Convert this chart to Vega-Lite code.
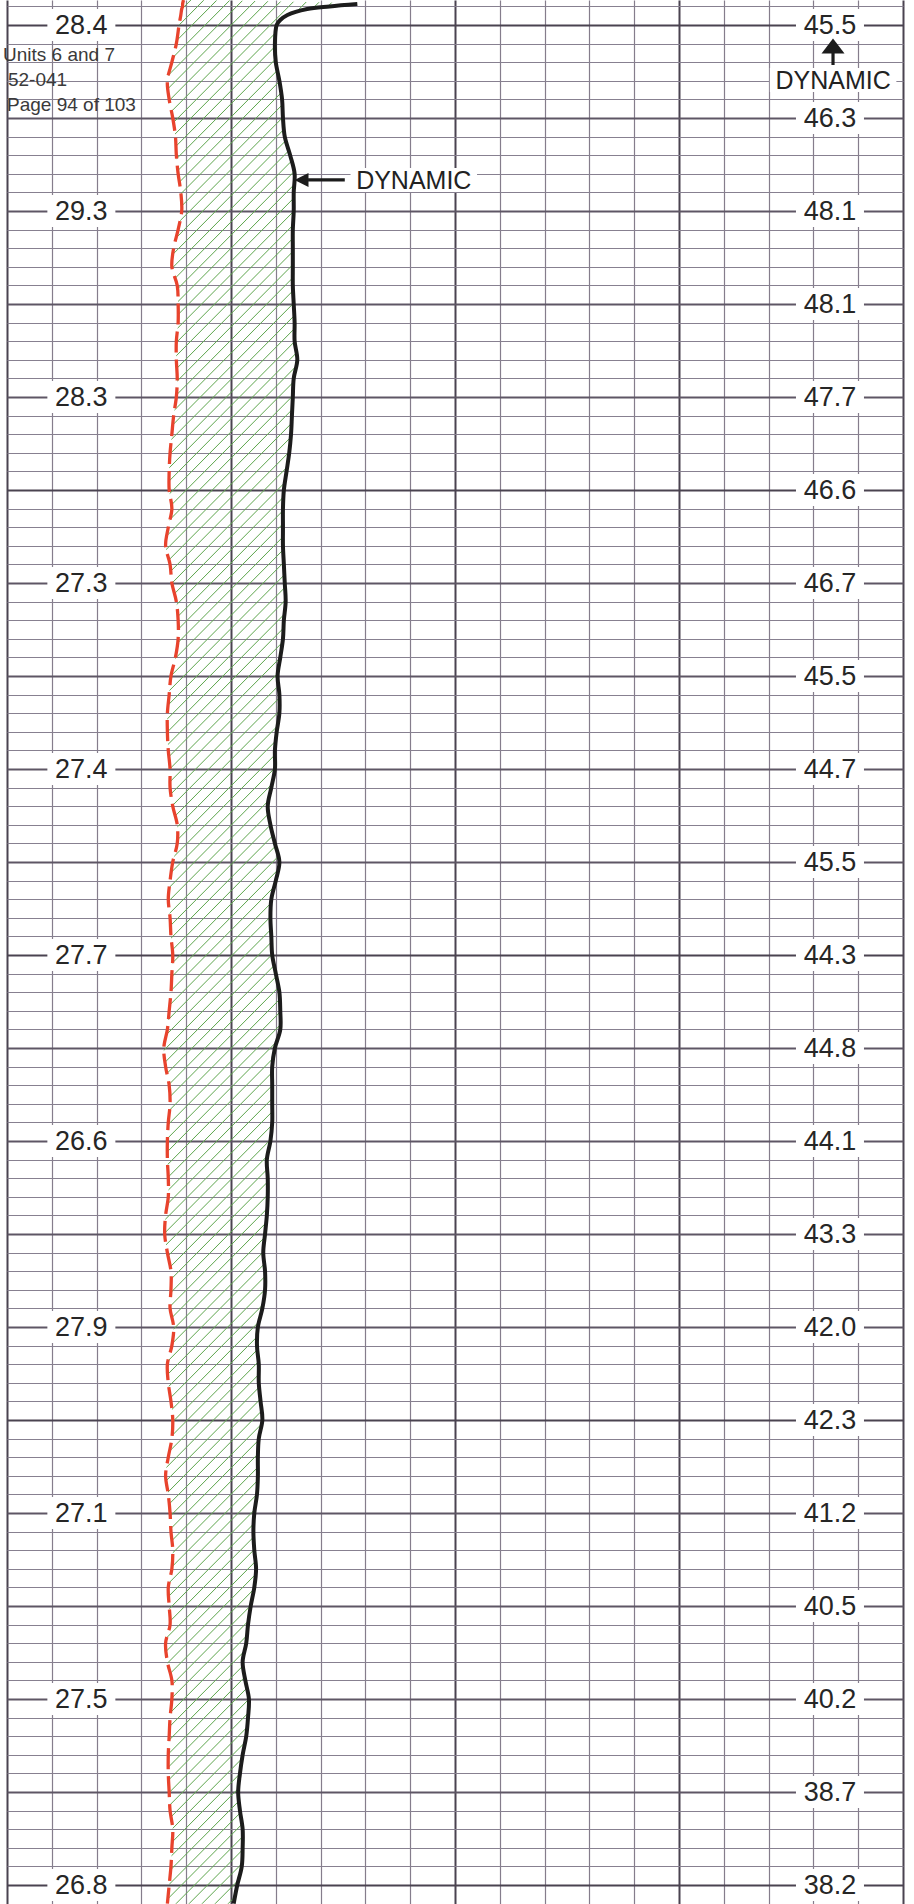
{
  "$schema": "https://vega.github.io/schema/vega-lite/v6.json",
  "width": 896,
  "height": 1904,
  "autosize": "none",
  "padding": {"left": 7, "right": 11, "top": 0, "bottom": 0},
  "background": "white",
  "config": {"view": {"stroke": null}, "font": "Liberation Sans"},
  "datasets": {
    "trace": [
      {"t": -1.34, "red": 19.7},
      {"t": -1.13, "dyn": 39.1, "red": 19.6},
      {"t": -1.0, "dyn": 36.0, "red": 19.6},
      {"t": -0.86, "dyn": 33.5, "red": 19.5},
      {"t": -0.54, "dyn": 31.3, "red": 19.4},
      {"t": -0.27, "dyn": 30.5, "red": 19.3},
      {"t": 0, "dyn": 30.1, "red": 19.2},
      {"t": 1, "dyn": 29.9, "red": 18.9},
      {"t": 2, "dyn": 30.0, "red": 18.4},
      {"t": 3, "dyn": 30.4, "red": 17.9},
      {"t": 4, "dyn": 30.7, "red": 18.1},
      {"t": 5, "dyn": 30.8, "red": 18.5},
      {"t": 6, "dyn": 31.0, "red": 18.8},
      {"t": 7, "dyn": 31.6, "red": 18.9},
      {"t": 8, "dyn": 32.1, "red": 19.1},
      {"t": 9, "dyn": 32.0, "red": 19.4},
      {"t": 10, "dyn": 32.0, "red": 19.5},
      {"t": 11, "dyn": 31.9, "red": 19.1},
      {"t": 12, "dyn": 31.9, "red": 18.6},
      {"t": 13, "dyn": 31.9, "red": 18.4},
      {"t": 14, "dyn": 31.9, "red": 19.0},
      {"t": 15, "dyn": 32.0, "red": 19.1},
      {"t": 16, "dyn": 32.1, "red": 19.1},
      {"t": 17, "dyn": 32.1, "red": 18.9},
      {"t": 18, "dyn": 32.4, "red": 18.9},
      {"t": 19, "dyn": 32.0, "red": 19.0},
      {"t": 20, "dyn": 31.9, "red": 18.9},
      {"t": 21, "dyn": 31.8, "red": 18.6},
      {"t": 22, "dyn": 31.7, "red": 18.4},
      {"t": 23, "dyn": 31.5, "red": 18.2},
      {"t": 24, "dyn": 31.2, "red": 18.1},
      {"t": 25, "dyn": 30.9, "red": 18.1},
      {"t": 26, "dyn": 30.8, "red": 18.4},
      {"t": 27, "dyn": 30.8, "red": 18.0},
      {"t": 28, "dyn": 30.8, "red": 17.7},
      {"t": 29, "dyn": 30.9, "red": 18.2},
      {"t": 30, "dyn": 31.0, "red": 18.4},
      {"t": 31, "dyn": 31.1, "red": 18.9},
      {"t": 32, "dyn": 30.9, "red": 19.1},
      {"t": 33, "dyn": 30.8, "red": 19.1},
      {"t": 34, "dyn": 30.5, "red": 18.8},
      {"t": 35, "dyn": 30.2, "red": 18.3},
      {"t": 36, "dyn": 30.4, "red": 18.1},
      {"t": 37, "dyn": 30.4, "red": 17.9},
      {"t": 38, "dyn": 30.1, "red": 17.9},
      {"t": 39, "dyn": 29.9, "red": 18.0},
      {"t": 40, "dyn": 29.9, "red": 18.2},
      {"t": 41, "dyn": 29.5, "red": 18.2},
      {"t": 42, "dyn": 29.1, "red": 18.5},
      {"t": 43, "dyn": 29.4, "red": 19.0},
      {"t": 44, "dyn": 29.9, "red": 19.0},
      {"t": 45, "dyn": 30.4, "red": 18.5},
      {"t": 46, "dyn": 30.0, "red": 18.2},
      {"t": 47, "dyn": 29.5, "red": 18.0},
      {"t": 48, "dyn": 29.4, "red": 18.2},
      {"t": 49, "dyn": 29.5, "red": 18.3},
      {"t": 50, "dyn": 29.6, "red": 18.5},
      {"t": 51, "dyn": 30.0, "red": 18.4},
      {"t": 52, "dyn": 30.4, "red": 18.3},
      {"t": 53, "dyn": 30.5, "red": 18.1},
      {"t": 54, "dyn": 30.5, "red": 17.9},
      {"t": 55, "dyn": 29.9, "red": 17.5},
      {"t": 56, "dyn": 29.6, "red": 17.7},
      {"t": 57, "dyn": 29.6, "red": 18.1},
      {"t": 58, "dyn": 29.6, "red": 18.2},
      {"t": 59, "dyn": 29.6, "red": 18.0},
      {"t": 60, "dyn": 29.4, "red": 17.9},
      {"t": 61, "dyn": 29.0, "red": 17.9},
      {"t": 62, "dyn": 29.1, "red": 18.0},
      {"t": 63, "dyn": 29.1, "red": 18.0},
      {"t": 64, "dyn": 29.0, "red": 17.7},
      {"t": 65, "dyn": 28.8, "red": 17.6},
      {"t": 66, "dyn": 28.6, "red": 17.9},
      {"t": 67, "dyn": 28.8, "red": 18.3},
      {"t": 68, "dyn": 28.8, "red": 18.3},
      {"t": 69, "dyn": 28.5, "red": 18.2},
      {"t": 70, "dyn": 28.0, "red": 18.6},
      {"t": 71, "dyn": 27.9, "red": 18.4},
      {"t": 72, "dyn": 28.1, "red": 17.9},
      {"t": 73, "dyn": 28.1, "red": 18.0},
      {"t": 74, "dyn": 28.3, "red": 18.3},
      {"t": 75, "dyn": 28.5, "red": 18.5},
      {"t": 76, "dyn": 28.1, "red": 18.4},
      {"t": 77, "dyn": 28.0, "red": 18.0},
      {"t": 78, "dyn": 28.0, "red": 17.7},
      {"t": 79, "dyn": 27.9, "red": 18.0},
      {"t": 80, "dyn": 27.6, "red": 18.2},
      {"t": 81, "dyn": 27.5, "red": 18.3},
      {"t": 82, "dyn": 27.6, "red": 18.5},
      {"t": 83, "dyn": 27.8, "red": 18.4},
      {"t": 84, "dyn": 27.6, "red": 18.0},
      {"t": 85, "dyn": 27.2, "red": 18.1},
      {"t": 86, "dyn": 26.9, "red": 18.2},
      {"t": 87, "dyn": 26.7, "red": 17.7},
      {"t": 88, "dyn": 26.3, "red": 17.9},
      {"t": 89, "dyn": 26.6, "red": 18.4},
      {"t": 90, "dyn": 27.0, "red": 18.4},
      {"t": 91, "dyn": 26.9, "red": 18.2},
      {"t": 92, "dyn": 26.7, "red": 18.1},
      {"t": 93, "dyn": 26.3, "red": 18.0},
      {"t": 94, "dyn": 26.0, "red": 18.0},
      {"t": 95, "dyn": 25.8, "red": 18.1},
      {"t": 96, "dyn": 26.0, "red": 18.2},
      {"t": 97, "dyn": 26.3, "red": 18.5},
      {"t": 98, "dyn": 26.3, "red": 18.4},
      {"t": 99, "dyn": 26.2, "red": 18.3},
      {"t": 100, "dyn": 25.7, "red": 18.1},
      {"t": 101, "dyn": 25.3, "red": 17.9}
    ],
    "left": [
      {"t": 0, "v": "28.4"}, {"t": 10, "v": "29.3"}, {"t": 20, "v": "28.3"},
      {"t": 30, "v": "27.3"}, {"t": 40, "v": "27.4"}, {"t": 50, "v": "27.7"},
      {"t": 60, "v": "26.6"}, {"t": 70, "v": "27.9"}, {"t": 80, "v": "27.1"},
      {"t": 90, "v": "27.5"}, {"t": 100, "v": "26.8"}
    ],
    "right": [
      {"t": 0, "v": "45.5"}, {"t": 5, "v": "46.3"}, {"t": 10, "v": "48.1"},
      {"t": 15, "v": "48.1"}, {"t": 20, "v": "47.7"}, {"t": 25, "v": "46.6"},
      {"t": 30, "v": "46.7"}, {"t": 35, "v": "45.5"}, {"t": 40, "v": "44.7"},
      {"t": 45, "v": "45.5"}, {"t": 50, "v": "44.3"}, {"t": 55, "v": "44.8"},
      {"t": 60, "v": "44.1"}, {"t": 65, "v": "43.3"}, {"t": 70, "v": "42.0"},
      {"t": 75, "v": "42.3"}, {"t": 80, "v": "41.2"}, {"t": 85, "v": "40.5"},
      {"t": 90, "v": "40.2"}, {"t": 95, "v": "38.7"}, {"t": 100, "v": "38.2"}
    ]
  },
  "layer": [
    {
      "data": {"name": "trace"},
      "mark": {"type": "area", "orient": "horizontal", "interpolate": "catmull-rom", "fillOpacity": 1,
        "fill": {"gradient": "linear", "x1": 0, "y1": 0, "x2": 0.1117, "y2": 1.091, "stops": [
{"offset":0,"color":"rgba(98,168,82,0)"},{"offset":0.0005,"color":"#62a852"},{"offset":0.001,"color":"rgba(98,168,82,0)"},
{"offset":0.00625,"color":"rgba(98,168,82,0)"},{"offset":0.00675,"color":"#62a852"},{"offset":0.00725,"color":"rgba(98,168,82,0)"},
{"offset":0.0125,"color":"rgba(98,168,82,0)"},{"offset":0.013,"color":"#62a852"},{"offset":0.0135,"color":"rgba(98,168,82,0)"},
{"offset":0.01875,"color":"rgba(98,168,82,0)"},{"offset":0.01925,"color":"#62a852"},{"offset":0.01975,"color":"rgba(98,168,82,0)"},
{"offset":0.025,"color":"rgba(98,168,82,0)"},{"offset":0.0255,"color":"#62a852"},{"offset":0.026,"color":"rgba(98,168,82,0)"},
{"offset":0.03125,"color":"rgba(98,168,82,0)"},{"offset":0.03175,"color":"#62a852"},{"offset":0.03225,"color":"rgba(98,168,82,0)"},
{"offset":0.0375,"color":"rgba(98,168,82,0)"},{"offset":0.038,"color":"#62a852"},{"offset":0.0385,"color":"rgba(98,168,82,0)"},
{"offset":0.04375,"color":"rgba(98,168,82,0)"},{"offset":0.04425,"color":"#62a852"},{"offset":0.04475,"color":"rgba(98,168,82,0)"},
{"offset":0.05,"color":"rgba(98,168,82,0)"},{"offset":0.0505,"color":"#62a852"},{"offset":0.051,"color":"rgba(98,168,82,0)"},
{"offset":0.05625,"color":"rgba(98,168,82,0)"},{"offset":0.05675,"color":"#62a852"},{"offset":0.05725,"color":"rgba(98,168,82,0)"},
{"offset":0.0625,"color":"rgba(98,168,82,0)"},{"offset":0.063,"color":"#62a852"},{"offset":0.0635,"color":"rgba(98,168,82,0)"},
{"offset":0.06875,"color":"rgba(98,168,82,0)"},{"offset":0.06925,"color":"#62a852"},{"offset":0.06975,"color":"rgba(98,168,82,0)"},
{"offset":0.075,"color":"rgba(98,168,82,0)"},{"offset":0.0755,"color":"#62a852"},{"offset":0.076,"color":"rgba(98,168,82,0)"},
{"offset":0.08125,"color":"rgba(98,168,82,0)"},{"offset":0.08175,"color":"#62a852"},{"offset":0.08225,"color":"rgba(98,168,82,0)"},
{"offset":0.0875,"color":"rgba(98,168,82,0)"},{"offset":0.088,"color":"#62a852"},{"offset":0.0885,"color":"rgba(98,168,82,0)"},
{"offset":0.09375,"color":"rgba(98,168,82,0)"},{"offset":0.09425,"color":"#62a852"},{"offset":0.09475,"color":"rgba(98,168,82,0)"},
{"offset":0.1,"color":"rgba(98,168,82,0)"},{"offset":0.1005,"color":"#62a852"},{"offset":0.101,"color":"rgba(98,168,82,0)"},
{"offset":0.10625,"color":"rgba(98,168,82,0)"},{"offset":0.10675,"color":"#62a852"},{"offset":0.10725,"color":"rgba(98,168,82,0)"},
{"offset":0.1125,"color":"rgba(98,168,82,0)"},{"offset":0.113,"color":"#62a852"},{"offset":0.1135,"color":"rgba(98,168,82,0)"},
{"offset":0.11875,"color":"rgba(98,168,82,0)"},{"offset":0.11925,"color":"#62a852"},{"offset":0.11975,"color":"rgba(98,168,82,0)"},
{"offset":0.125,"color":"rgba(98,168,82,0)"},{"offset":0.1255,"color":"#62a852"},{"offset":0.126,"color":"rgba(98,168,82,0)"},
{"offset":0.13125,"color":"rgba(98,168,82,0)"},{"offset":0.13175,"color":"#62a852"},{"offset":0.13225,"color":"rgba(98,168,82,0)"},
{"offset":0.1375,"color":"rgba(98,168,82,0)"},{"offset":0.138,"color":"#62a852"},{"offset":0.1385,"color":"rgba(98,168,82,0)"},
{"offset":0.14375,"color":"rgba(98,168,82,0)"},{"offset":0.14425,"color":"#62a852"},{"offset":0.14475,"color":"rgba(98,168,82,0)"},
{"offset":0.15,"color":"rgba(98,168,82,0)"},{"offset":0.1505,"color":"#62a852"},{"offset":0.151,"color":"rgba(98,168,82,0)"},
{"offset":0.15625,"color":"rgba(98,168,82,0)"},{"offset":0.15675,"color":"#62a852"},{"offset":0.15725,"color":"rgba(98,168,82,0)"},
{"offset":0.1625,"color":"rgba(98,168,82,0)"},{"offset":0.163,"color":"#62a852"},{"offset":0.1635,"color":"rgba(98,168,82,0)"},
{"offset":0.16875,"color":"rgba(98,168,82,0)"},{"offset":0.16925,"color":"#62a852"},{"offset":0.16975,"color":"rgba(98,168,82,0)"},
{"offset":0.175,"color":"rgba(98,168,82,0)"},{"offset":0.1755,"color":"#62a852"},{"offset":0.176,"color":"rgba(98,168,82,0)"},
{"offset":0.18125,"color":"rgba(98,168,82,0)"},{"offset":0.18175,"color":"#62a852"},{"offset":0.18225,"color":"rgba(98,168,82,0)"},
{"offset":0.1875,"color":"rgba(98,168,82,0)"},{"offset":0.188,"color":"#62a852"},{"offset":0.1885,"color":"rgba(98,168,82,0)"},
{"offset":0.19375,"color":"rgba(98,168,82,0)"},{"offset":0.19425,"color":"#62a852"},{"offset":0.19475,"color":"rgba(98,168,82,0)"},
{"offset":0.2,"color":"rgba(98,168,82,0)"},{"offset":0.2005,"color":"#62a852"},{"offset":0.201,"color":"rgba(98,168,82,0)"},
{"offset":0.20625,"color":"rgba(98,168,82,0)"},{"offset":0.20675,"color":"#62a852"},{"offset":0.20725,"color":"rgba(98,168,82,0)"},
{"offset":0.2125,"color":"rgba(98,168,82,0)"},{"offset":0.213,"color":"#62a852"},{"offset":0.2135,"color":"rgba(98,168,82,0)"},
{"offset":0.21875,"color":"rgba(98,168,82,0)"},{"offset":0.21925,"color":"#62a852"},{"offset":0.21975,"color":"rgba(98,168,82,0)"},
{"offset":0.225,"color":"rgba(98,168,82,0)"},{"offset":0.2255,"color":"#62a852"},{"offset":0.226,"color":"rgba(98,168,82,0)"},
{"offset":0.23125,"color":"rgba(98,168,82,0)"},{"offset":0.23175,"color":"#62a852"},{"offset":0.23225,"color":"rgba(98,168,82,0)"},
{"offset":0.2375,"color":"rgba(98,168,82,0)"},{"offset":0.238,"color":"#62a852"},{"offset":0.2385,"color":"rgba(98,168,82,0)"},
{"offset":0.24375,"color":"rgba(98,168,82,0)"},{"offset":0.24425,"color":"#62a852"},{"offset":0.24475,"color":"rgba(98,168,82,0)"},
{"offset":0.25,"color":"rgba(98,168,82,0)"},{"offset":0.2505,"color":"#62a852"},{"offset":0.251,"color":"rgba(98,168,82,0)"},
{"offset":0.25625,"color":"rgba(98,168,82,0)"},{"offset":0.25675,"color":"#62a852"},{"offset":0.25725,"color":"rgba(98,168,82,0)"},
{"offset":0.2625,"color":"rgba(98,168,82,0)"},{"offset":0.263,"color":"#62a852"},{"offset":0.2635,"color":"rgba(98,168,82,0)"},
{"offset":0.26875,"color":"rgba(98,168,82,0)"},{"offset":0.26925,"color":"#62a852"},{"offset":0.26975,"color":"rgba(98,168,82,0)"},
{"offset":0.275,"color":"rgba(98,168,82,0)"},{"offset":0.2755,"color":"#62a852"},{"offset":0.276,"color":"rgba(98,168,82,0)"},
{"offset":0.28125,"color":"rgba(98,168,82,0)"},{"offset":0.28175,"color":"#62a852"},{"offset":0.28225,"color":"rgba(98,168,82,0)"},
{"offset":0.2875,"color":"rgba(98,168,82,0)"},{"offset":0.288,"color":"#62a852"},{"offset":0.2885,"color":"rgba(98,168,82,0)"},
{"offset":0.29375,"color":"rgba(98,168,82,0)"},{"offset":0.29425,"color":"#62a852"},{"offset":0.29475,"color":"rgba(98,168,82,0)"},
{"offset":0.3,"color":"rgba(98,168,82,0)"},{"offset":0.3005,"color":"#62a852"},{"offset":0.301,"color":"rgba(98,168,82,0)"},
{"offset":0.30625,"color":"rgba(98,168,82,0)"},{"offset":0.30675,"color":"#62a852"},{"offset":0.30725,"color":"rgba(98,168,82,0)"},
{"offset":0.3125,"color":"rgba(98,168,82,0)"},{"offset":0.313,"color":"#62a852"},{"offset":0.3135,"color":"rgba(98,168,82,0)"},
{"offset":0.31875,"color":"rgba(98,168,82,0)"},{"offset":0.31925,"color":"#62a852"},{"offset":0.31975,"color":"rgba(98,168,82,0)"},
{"offset":0.325,"color":"rgba(98,168,82,0)"},{"offset":0.3255,"color":"#62a852"},{"offset":0.326,"color":"rgba(98,168,82,0)"},
{"offset":0.33125,"color":"rgba(98,168,82,0)"},{"offset":0.33175,"color":"#62a852"},{"offset":0.33225,"color":"rgba(98,168,82,0)"},
{"offset":0.3375,"color":"rgba(98,168,82,0)"},{"offset":0.338,"color":"#62a852"},{"offset":0.3385,"color":"rgba(98,168,82,0)"},
{"offset":0.34375,"color":"rgba(98,168,82,0)"},{"offset":0.34425,"color":"#62a852"},{"offset":0.34475,"color":"rgba(98,168,82,0)"},
{"offset":0.35,"color":"rgba(98,168,82,0)"},{"offset":0.3505,"color":"#62a852"},{"offset":0.351,"color":"rgba(98,168,82,0)"},
{"offset":0.35625,"color":"rgba(98,168,82,0)"},{"offset":0.35675,"color":"#62a852"},{"offset":0.35725,"color":"rgba(98,168,82,0)"},
{"offset":0.3625,"color":"rgba(98,168,82,0)"},{"offset":0.363,"color":"#62a852"},{"offset":0.3635,"color":"rgba(98,168,82,0)"},
{"offset":0.36875,"color":"rgba(98,168,82,0)"},{"offset":0.36925,"color":"#62a852"},{"offset":0.36975,"color":"rgba(98,168,82,0)"},
{"offset":0.375,"color":"rgba(98,168,82,0)"},{"offset":0.3755,"color":"#62a852"},{"offset":0.376,"color":"rgba(98,168,82,0)"},
{"offset":0.38125,"color":"rgba(98,168,82,0)"},{"offset":0.38175,"color":"#62a852"},{"offset":0.38225,"color":"rgba(98,168,82,0)"},
{"offset":0.3875,"color":"rgba(98,168,82,0)"},{"offset":0.388,"color":"#62a852"},{"offset":0.3885,"color":"rgba(98,168,82,0)"},
{"offset":0.39375,"color":"rgba(98,168,82,0)"},{"offset":0.39425,"color":"#62a852"},{"offset":0.39475,"color":"rgba(98,168,82,0)"},
{"offset":0.4,"color":"rgba(98,168,82,0)"},{"offset":0.4005,"color":"#62a852"},{"offset":0.401,"color":"rgba(98,168,82,0)"},
{"offset":0.40625,"color":"rgba(98,168,82,0)"},{"offset":0.40675,"color":"#62a852"},{"offset":0.40725,"color":"rgba(98,168,82,0)"},
{"offset":0.4125,"color":"rgba(98,168,82,0)"},{"offset":0.413,"color":"#62a852"},{"offset":0.4135,"color":"rgba(98,168,82,0)"},
{"offset":0.41875,"color":"rgba(98,168,82,0)"},{"offset":0.41925,"color":"#62a852"},{"offset":0.41975,"color":"rgba(98,168,82,0)"},
{"offset":0.425,"color":"rgba(98,168,82,0)"},{"offset":0.4255,"color":"#62a852"},{"offset":0.426,"color":"rgba(98,168,82,0)"},
{"offset":0.43125,"color":"rgba(98,168,82,0)"},{"offset":0.43175,"color":"#62a852"},{"offset":0.43225,"color":"rgba(98,168,82,0)"},
{"offset":0.4375,"color":"rgba(98,168,82,0)"},{"offset":0.438,"color":"#62a852"},{"offset":0.4385,"color":"rgba(98,168,82,0)"},
{"offset":0.44375,"color":"rgba(98,168,82,0)"},{"offset":0.44425,"color":"#62a852"},{"offset":0.44475,"color":"rgba(98,168,82,0)"},
{"offset":0.45,"color":"rgba(98,168,82,0)"},{"offset":0.4505,"color":"#62a852"},{"offset":0.451,"color":"rgba(98,168,82,0)"},
{"offset":0.45625,"color":"rgba(98,168,82,0)"},{"offset":0.45675,"color":"#62a852"},{"offset":0.45725,"color":"rgba(98,168,82,0)"},
{"offset":0.4625,"color":"rgba(98,168,82,0)"},{"offset":0.463,"color":"#62a852"},{"offset":0.4635,"color":"rgba(98,168,82,0)"},
{"offset":0.46875,"color":"rgba(98,168,82,0)"},{"offset":0.46925,"color":"#62a852"},{"offset":0.46975,"color":"rgba(98,168,82,0)"},
{"offset":0.475,"color":"rgba(98,168,82,0)"},{"offset":0.4755,"color":"#62a852"},{"offset":0.476,"color":"rgba(98,168,82,0)"},
{"offset":0.48125,"color":"rgba(98,168,82,0)"},{"offset":0.48175,"color":"#62a852"},{"offset":0.48225,"color":"rgba(98,168,82,0)"},
{"offset":0.4875,"color":"rgba(98,168,82,0)"},{"offset":0.488,"color":"#62a852"},{"offset":0.4885,"color":"rgba(98,168,82,0)"},
{"offset":0.49375,"color":"rgba(98,168,82,0)"},{"offset":0.49425,"color":"#62a852"},{"offset":0.49475,"color":"rgba(98,168,82,0)"},
{"offset":0.5,"color":"rgba(98,168,82,0)"},{"offset":0.5005,"color":"#62a852"},{"offset":0.501,"color":"rgba(98,168,82,0)"},
{"offset":0.50625,"color":"rgba(98,168,82,0)"},{"offset":0.50675,"color":"#62a852"},{"offset":0.50725,"color":"rgba(98,168,82,0)"},
{"offset":0.5125,"color":"rgba(98,168,82,0)"},{"offset":0.513,"color":"#62a852"},{"offset":0.5135,"color":"rgba(98,168,82,0)"},
{"offset":0.51875,"color":"rgba(98,168,82,0)"},{"offset":0.51925,"color":"#62a852"},{"offset":0.51975,"color":"rgba(98,168,82,0)"},
{"offset":0.525,"color":"rgba(98,168,82,0)"},{"offset":0.5255,"color":"#62a852"},{"offset":0.526,"color":"rgba(98,168,82,0)"},
{"offset":0.53125,"color":"rgba(98,168,82,0)"},{"offset":0.53175,"color":"#62a852"},{"offset":0.53225,"color":"rgba(98,168,82,0)"},
{"offset":0.5375,"color":"rgba(98,168,82,0)"},{"offset":0.538,"color":"#62a852"},{"offset":0.5385,"color":"rgba(98,168,82,0)"},
{"offset":0.54375,"color":"rgba(98,168,82,0)"},{"offset":0.54425,"color":"#62a852"},{"offset":0.54475,"color":"rgba(98,168,82,0)"},
{"offset":0.55,"color":"rgba(98,168,82,0)"},{"offset":0.5505,"color":"#62a852"},{"offset":0.551,"color":"rgba(98,168,82,0)"},
{"offset":0.55625,"color":"rgba(98,168,82,0)"},{"offset":0.55675,"color":"#62a852"},{"offset":0.55725,"color":"rgba(98,168,82,0)"},
{"offset":0.5625,"color":"rgba(98,168,82,0)"},{"offset":0.563,"color":"#62a852"},{"offset":0.5635,"color":"rgba(98,168,82,0)"},
{"offset":0.56875,"color":"rgba(98,168,82,0)"},{"offset":0.56925,"color":"#62a852"},{"offset":0.56975,"color":"rgba(98,168,82,0)"},
{"offset":0.575,"color":"rgba(98,168,82,0)"},{"offset":0.5755,"color":"#62a852"},{"offset":0.576,"color":"rgba(98,168,82,0)"},
{"offset":0.58125,"color":"rgba(98,168,82,0)"},{"offset":0.58175,"color":"#62a852"},{"offset":0.58225,"color":"rgba(98,168,82,0)"},
{"offset":0.5875,"color":"rgba(98,168,82,0)"},{"offset":0.588,"color":"#62a852"},{"offset":0.5885,"color":"rgba(98,168,82,0)"},
{"offset":0.59375,"color":"rgba(98,168,82,0)"},{"offset":0.59425,"color":"#62a852"},{"offset":0.59475,"color":"rgba(98,168,82,0)"},
{"offset":0.6,"color":"rgba(98,168,82,0)"},{"offset":0.6005,"color":"#62a852"},{"offset":0.601,"color":"rgba(98,168,82,0)"},
{"offset":0.60625,"color":"rgba(98,168,82,0)"},{"offset":0.60675,"color":"#62a852"},{"offset":0.60725,"color":"rgba(98,168,82,0)"},
{"offset":0.6125,"color":"rgba(98,168,82,0)"},{"offset":0.613,"color":"#62a852"},{"offset":0.6135,"color":"rgba(98,168,82,0)"},
{"offset":0.61875,"color":"rgba(98,168,82,0)"},{"offset":0.61925,"color":"#62a852"},{"offset":0.61975,"color":"rgba(98,168,82,0)"},
{"offset":0.625,"color":"rgba(98,168,82,0)"},{"offset":0.6255,"color":"#62a852"},{"offset":0.626,"color":"rgba(98,168,82,0)"},
{"offset":0.63125,"color":"rgba(98,168,82,0)"},{"offset":0.63175,"color":"#62a852"},{"offset":0.63225,"color":"rgba(98,168,82,0)"},
{"offset":0.6375,"color":"rgba(98,168,82,0)"},{"offset":0.638,"color":"#62a852"},{"offset":0.6385,"color":"rgba(98,168,82,0)"},
{"offset":0.64375,"color":"rgba(98,168,82,0)"},{"offset":0.64425,"color":"#62a852"},{"offset":0.64475,"color":"rgba(98,168,82,0)"},
{"offset":0.65,"color":"rgba(98,168,82,0)"},{"offset":0.6505,"color":"#62a852"},{"offset":0.651,"color":"rgba(98,168,82,0)"},
{"offset":0.65625,"color":"rgba(98,168,82,0)"},{"offset":0.65675,"color":"#62a852"},{"offset":0.65725,"color":"rgba(98,168,82,0)"},
{"offset":0.6625,"color":"rgba(98,168,82,0)"},{"offset":0.663,"color":"#62a852"},{"offset":0.6635,"color":"rgba(98,168,82,0)"},
{"offset":0.66875,"color":"rgba(98,168,82,0)"},{"offset":0.66925,"color":"#62a852"},{"offset":0.66975,"color":"rgba(98,168,82,0)"},
{"offset":0.675,"color":"rgba(98,168,82,0)"},{"offset":0.6755,"color":"#62a852"},{"offset":0.676,"color":"rgba(98,168,82,0)"},
{"offset":0.68125,"color":"rgba(98,168,82,0)"},{"offset":0.68175,"color":"#62a852"},{"offset":0.68225,"color":"rgba(98,168,82,0)"},
{"offset":0.6875,"color":"rgba(98,168,82,0)"},{"offset":0.688,"color":"#62a852"},{"offset":0.6885,"color":"rgba(98,168,82,0)"},
{"offset":0.69375,"color":"rgba(98,168,82,0)"},{"offset":0.69425,"color":"#62a852"},{"offset":0.69475,"color":"rgba(98,168,82,0)"},
{"offset":0.7,"color":"rgba(98,168,82,0)"},{"offset":0.7005,"color":"#62a852"},{"offset":0.701,"color":"rgba(98,168,82,0)"},
{"offset":0.70625,"color":"rgba(98,168,82,0)"},{"offset":0.70675,"color":"#62a852"},{"offset":0.70725,"color":"rgba(98,168,82,0)"},
{"offset":0.7125,"color":"rgba(98,168,82,0)"},{"offset":0.713,"color":"#62a852"},{"offset":0.7135,"color":"rgba(98,168,82,0)"},
{"offset":0.71875,"color":"rgba(98,168,82,0)"},{"offset":0.71925,"color":"#62a852"},{"offset":0.71975,"color":"rgba(98,168,82,0)"},
{"offset":0.725,"color":"rgba(98,168,82,0)"},{"offset":0.7255,"color":"#62a852"},{"offset":0.726,"color":"rgba(98,168,82,0)"},
{"offset":0.73125,"color":"rgba(98,168,82,0)"},{"offset":0.73175,"color":"#62a852"},{"offset":0.73225,"color":"rgba(98,168,82,0)"},
{"offset":0.7375,"color":"rgba(98,168,82,0)"},{"offset":0.738,"color":"#62a852"},{"offset":0.7385,"color":"rgba(98,168,82,0)"},
{"offset":0.74375,"color":"rgba(98,168,82,0)"},{"offset":0.74425,"color":"#62a852"},{"offset":0.74475,"color":"rgba(98,168,82,0)"},
{"offset":0.75,"color":"rgba(98,168,82,0)"},{"offset":0.7505,"color":"#62a852"},{"offset":0.751,"color":"rgba(98,168,82,0)"},
{"offset":0.75625,"color":"rgba(98,168,82,0)"},{"offset":0.75675,"color":"#62a852"},{"offset":0.75725,"color":"rgba(98,168,82,0)"},
{"offset":0.7625,"color":"rgba(98,168,82,0)"},{"offset":0.763,"color":"#62a852"},{"offset":0.7635,"color":"rgba(98,168,82,0)"},
{"offset":0.76875,"color":"rgba(98,168,82,0)"},{"offset":0.76925,"color":"#62a852"},{"offset":0.76975,"color":"rgba(98,168,82,0)"},
{"offset":0.775,"color":"rgba(98,168,82,0)"},{"offset":0.7755,"color":"#62a852"},{"offset":0.776,"color":"rgba(98,168,82,0)"},
{"offset":0.78125,"color":"rgba(98,168,82,0)"},{"offset":0.78175,"color":"#62a852"},{"offset":0.78225,"color":"rgba(98,168,82,0)"},
{"offset":0.7875,"color":"rgba(98,168,82,0)"},{"offset":0.788,"color":"#62a852"},{"offset":0.7885,"color":"rgba(98,168,82,0)"},
{"offset":0.79375,"color":"rgba(98,168,82,0)"},{"offset":0.79425,"color":"#62a852"},{"offset":0.79475,"color":"rgba(98,168,82,0)"},
{"offset":0.8,"color":"rgba(98,168,82,0)"},{"offset":0.8005,"color":"#62a852"},{"offset":0.801,"color":"rgba(98,168,82,0)"},
{"offset":0.80625,"color":"rgba(98,168,82,0)"},{"offset":0.80675,"color":"#62a852"},{"offset":0.80725,"color":"rgba(98,168,82,0)"},
{"offset":0.8125,"color":"rgba(98,168,82,0)"},{"offset":0.813,"color":"#62a852"},{"offset":0.8135,"color":"rgba(98,168,82,0)"},
{"offset":0.81875,"color":"rgba(98,168,82,0)"},{"offset":0.81925,"color":"#62a852"},{"offset":0.81975,"color":"rgba(98,168,82,0)"},
{"offset":0.825,"color":"rgba(98,168,82,0)"},{"offset":0.8255,"color":"#62a852"},{"offset":0.826,"color":"rgba(98,168,82,0)"},
{"offset":0.83125,"color":"rgba(98,168,82,0)"},{"offset":0.83175,"color":"#62a852"},{"offset":0.83225,"color":"rgba(98,168,82,0)"},
{"offset":0.8375,"color":"rgba(98,168,82,0)"},{"offset":0.838,"color":"#62a852"},{"offset":0.8385,"color":"rgba(98,168,82,0)"},
{"offset":0.84375,"color":"rgba(98,168,82,0)"},{"offset":0.84425,"color":"#62a852"},{"offset":0.84475,"color":"rgba(98,168,82,0)"},
{"offset":0.85,"color":"rgba(98,168,82,0)"},{"offset":0.8505,"color":"#62a852"},{"offset":0.851,"color":"rgba(98,168,82,0)"},
{"offset":0.85625,"color":"rgba(98,168,82,0)"},{"offset":0.85675,"color":"#62a852"},{"offset":0.85725,"color":"rgba(98,168,82,0)"},
{"offset":0.8625,"color":"rgba(98,168,82,0)"},{"offset":0.863,"color":"#62a852"},{"offset":0.8635,"color":"rgba(98,168,82,0)"},
{"offset":0.86875,"color":"rgba(98,168,82,0)"},{"offset":0.86925,"color":"#62a852"},{"offset":0.86975,"color":"rgba(98,168,82,0)"},
{"offset":0.875,"color":"rgba(98,168,82,0)"},{"offset":0.8755,"color":"#62a852"},{"offset":0.876,"color":"rgba(98,168,82,0)"},
{"offset":0.88125,"color":"rgba(98,168,82,0)"},{"offset":0.88175,"color":"#62a852"},{"offset":0.88225,"color":"rgba(98,168,82,0)"},
{"offset":0.8875,"color":"rgba(98,168,82,0)"},{"offset":0.888,"color":"#62a852"},{"offset":0.8885,"color":"rgba(98,168,82,0)"},
{"offset":0.89375,"color":"rgba(98,168,82,0)"},{"offset":0.89425,"color":"#62a852"},{"offset":0.89475,"color":"rgba(98,168,82,0)"},
{"offset":0.9,"color":"rgba(98,168,82,0)"},{"offset":0.9005,"color":"#62a852"},{"offset":0.901,"color":"rgba(98,168,82,0)"},
{"offset":0.90625,"color":"rgba(98,168,82,0)"},{"offset":0.90675,"color":"#62a852"},{"offset":0.90725,"color":"rgba(98,168,82,0)"},
{"offset":0.9125,"color":"rgba(98,168,82,0)"},{"offset":0.913,"color":"#62a852"},{"offset":0.9135,"color":"rgba(98,168,82,0)"},
{"offset":0.91875,"color":"rgba(98,168,82,0)"},{"offset":0.91925,"color":"#62a852"},{"offset":0.91975,"color":"rgba(98,168,82,0)"},
{"offset":0.925,"color":"rgba(98,168,82,0)"},{"offset":0.9255,"color":"#62a852"},{"offset":0.926,"color":"rgba(98,168,82,0)"},
{"offset":0.93125,"color":"rgba(98,168,82,0)"},{"offset":0.93175,"color":"#62a852"},{"offset":0.93225,"color":"rgba(98,168,82,0)"},
{"offset":0.9375,"color":"rgba(98,168,82,0)"},{"offset":0.938,"color":"#62a852"},{"offset":0.9385,"color":"rgba(98,168,82,0)"},
{"offset":0.94375,"color":"rgba(98,168,82,0)"},{"offset":0.94425,"color":"#62a852"},{"offset":0.94475,"color":"rgba(98,168,82,0)"},
{"offset":0.95,"color":"rgba(98,168,82,0)"},{"offset":0.9505,"color":"#62a852"},{"offset":0.951,"color":"rgba(98,168,82,0)"},
{"offset":0.95625,"color":"rgba(98,168,82,0)"},{"offset":0.95675,"color":"#62a852"},{"offset":0.95725,"color":"rgba(98,168,82,0)"},
{"offset":0.9625,"color":"rgba(98,168,82,0)"},{"offset":0.963,"color":"#62a852"},{"offset":0.9635,"color":"rgba(98,168,82,0)"},
{"offset":0.96875,"color":"rgba(98,168,82,0)"},{"offset":0.96925,"color":"#62a852"},{"offset":0.96975,"color":"rgba(98,168,82,0)"},
{"offset":0.975,"color":"rgba(98,168,82,0)"},{"offset":0.9755,"color":"#62a852"},{"offset":0.976,"color":"rgba(98,168,82,0)"},
{"offset":0.98125,"color":"rgba(98,168,82,0)"},{"offset":0.98175,"color":"#62a852"},{"offset":0.98225,"color":"rgba(98,168,82,0)"},
{"offset":0.9875,"color":"rgba(98,168,82,0)"},{"offset":0.988,"color":"#62a852"},{"offset":0.9885,"color":"rgba(98,168,82,0)"},
{"offset":0.99375,"color":"rgba(98,168,82,0)"},{"offset":0.99425,"color":"#62a852"},{"offset":0.99475,"color":"rgba(98,168,82,0)"}
        ]}},
      "encoding": {
        "x": {"field": "red", "type": "quantitative",
          "scale": {"domain": [0, 100], "nice": false, "zero": false},
          "axis": {"values": [0,5,10,15,20,25,30,35,40,45,50,55,60,65,70,75,80,85,90,95,100],
            "tickCount": 100,
            "grid": true, "labels": false, "ticks": false, "domain": false, "title": null,
            "gridOpacity": 1,
            "gridColor": {"condition": {"test": "datum.value % 25 === 0", "value": "#4a4350"}, "value": "#857d8c"},
            "gridWidth": {"condition": {"test": "datum.value % 25 === 0", "value": 2}, "value": 1.2}}},
        "x2": {"field": "dyn"},
        "y": {"field": "t", "type": "quantitative",
          "scale": {"domain": [-1.344, 101.02], "nice": false, "zero": false, "reverse": true},
          "axis": {"values": [-1,0,1,2,3,4,5,6,7,8,9,10,11,12,13,14,15,16,17,18,19,20,21,22,23,24,25,26,27,28,29,30,31,32,33,34,35,36,37,38,39,40,41,42,43,44,45,46,47,48,49,50,51,52,53,54,55,56,57,58,59,60,61,62,63,64,65,66,67,68,69,70,71,72,73,74,75,76,77,78,79,80,81,82,83,84,85,86,87,88,89,90,91,92,93,94,95,96,97,98,99,100,101],
            "tickCount": 300,
            "grid": true, "labels": false, "ticks": false, "domain": false, "title": null,
            "gridOpacity": 1,
            "gridColor": {"condition": [{"test": "datum.value % 25 === 0", "value": "#4a4350"}, {"test": "datum.value % 5 === 0", "value": "#5e5665"}], "value": "#878090"},
            "gridWidth": {"condition": [{"test": "datum.value % 25 === 0", "value": 2.2}, {"test": "datum.value % 5 === 0", "value": 1.8}], "value": 1.2}}}
      }
    },
    {
      "data": {"name": "trace"},
      "mark": {"type": "line", "interpolate": "catmull-rom", "color": "#e8432d", "strokeWidth": 3.3, "strokeDash": [21, 7]},
      "encoding": {
        "x": {"field": "red", "type": "quantitative", "scale": {"domain": [0, 100], "nice": false, "zero": false}},
        "y": {"field": "t", "type": "quantitative", "scale": {"domain": [-1.344, 101.02], "nice": false, "zero": false, "reverse": true}},
        "order": {"field": "t", "type": "quantitative"}
      }
    },
    {
      "data": {"name": "trace"},
      "mark": {"type": "line", "interpolate": "catmull-rom", "color": "#1c1c1c", "strokeWidth": 4},
      "encoding": {
        "x": {"field": "dyn", "type": "quantitative", "scale": {"domain": [0, 100], "nice": false, "zero": false}},
        "y": {"field": "t", "type": "quantitative", "scale": {"domain": [-1.344, 101.02], "nice": false, "zero": false, "reverse": true}},
        "order": {"field": "t", "type": "quantitative"}
      }
    },
    {
      "data": {"name": "left"},
      "mark": {"type": "point", "shape": "M-1,-0.47H1V0.47H-1Z", "size": 4624, "filled": true, "fill": "white", "opacity": 1, "strokeWidth": 0},
      "encoding": {
        "x": {"datum": 8.3, "type": "quantitative", "scale": {"domain": [0, 100], "nice": false, "zero": false}},
        "y": {"field": "t", "type": "quantitative", "scale": {"domain": [-1.344, 101.02], "nice": false, "zero": false, "reverse": true}}
      }
    },
    {
      "data": {"name": "right"},
      "mark": {"type": "point", "shape": "M-1,-0.47H1V0.47H-1Z", "size": 4624, "filled": true, "fill": "white", "opacity": 1, "strokeWidth": 0},
      "encoding": {
        "x": {"datum": 91.85, "type": "quantitative", "scale": {"domain": [0, 100], "nice": false, "zero": false}},
        "y": {"field": "t", "type": "quantitative", "scale": {"domain": [-1.344, 101.02], "nice": false, "zero": false, "reverse": true}}
      }
    },
    {
      "data": {"name": "left"},
      "mark": {"type": "text", "font": "Liberation Sans", "fontSize": 27, "color": "#262626", "align": "center", "baseline": "middle", "dy": 1},
      "encoding": {
        "x": {"datum": 8.3, "type": "quantitative", "scale": {"domain": [0, 100], "nice": false, "zero": false}},
        "y": {"field": "t", "type": "quantitative", "scale": {"domain": [-1.344, 101.02], "nice": false, "zero": false, "reverse": true}},
        "text": {"field": "v"}
      }
    },
    {
      "data": {"name": "right"},
      "mark": {"type": "text", "font": "Liberation Sans", "fontSize": 27, "color": "#262626", "align": "center", "baseline": "middle", "dy": 1},
      "encoding": {
        "x": {"datum": 91.85, "type": "quantitative", "scale": {"domain": [0, 100], "nice": false, "zero": false}},
        "y": {"field": "t", "type": "quantitative", "scale": {"domain": [-1.344, 101.02], "nice": false, "zero": false, "reverse": true}},
        "text": {"field": "v"}
      }
    },
    {
      "data": {"values": [{"lbl": "DYNAMIC", "t": 8.33, "x": 45.4}, {"lbl": "DYNAMIC", "t": 2.96, "x": 92.2}]},
      "mark": {"type": "point", "shape": "M-1,-0.19H1V0.19H-1Z", "size": 16000, "filled": true, "fill": "white", "opacity": 1, "strokeWidth": 0},
      "encoding": {
        "x": {"field": "x", "type": "quantitative", "scale": {"domain": [0, 100], "nice": false, "zero": false}},
        "y": {"field": "t", "type": "quantitative", "scale": {"domain": [-1.344, 101.02], "nice": false, "zero": false, "reverse": true}}
      }
    },
    {
      "data": {"values": [{"lbl": "DYNAMIC", "t": 8.33, "x": 45.4}, {"lbl": "DYNAMIC", "t": 2.96, "x": 92.2}]},
      "mark": {"type": "text", "font": "Liberation Sans", "fontSize": 25, "color": "#222222", "align": "center", "baseline": "middle", "dy": 1},
      "encoding": {
        "x": {"field": "x", "type": "quantitative", "scale": {"domain": [0, 100], "nice": false, "zero": false}},
        "y": {"field": "t", "type": "quantitative", "scale": {"domain": [-1.344, 101.02], "nice": false, "zero": false, "reverse": true}},
        "text": {"field": "lbl"}
      }
    },
    {
      "data": {"values": [{"x": 33.6, "x2": 37.7, "t": 8.33}]},
      "mark": {"type": "rule", "color": "#1c1c1c", "strokeWidth": 3.2},
      "encoding": {
        "x": {"field": "x", "type": "quantitative", "scale": {"domain": [0, 100], "nice": false, "zero": false}},
        "x2": {"field": "x2"},
        "y": {"field": "t", "type": "quantitative", "scale": {"domain": [-1.344, 101.02], "nice": false, "zero": false, "reverse": true}}
      }
    },
    {
      "data": {"values": [{"x": 92.19, "t": 2.15, "t2": 1.4}]},
      "mark": {"type": "rule", "color": "#1c1c1c", "strokeWidth": 3.2},
      "encoding": {
        "x": {"field": "x", "type": "quantitative", "scale": {"domain": [0, 100], "nice": false, "zero": false}},
        "y": {"field": "t", "type": "quantitative", "scale": {"domain": [-1.344, 101.02], "nice": false, "zero": false, "reverse": true}},
        "y2": {"field": "t2"}
      }
    },
    {
      "data": {"values": [{"x": 32.87, "t": 8.33}]},
      "mark": {"type": "point", "shape": "M-1,0L1,-1L1,1Z", "size": 196, "filled": true, "fill": "#1c1c1c", "opacity": 1, "strokeWidth": 0},
      "encoding": {
        "x": {"field": "x", "type": "quantitative", "scale": {"domain": [0, 100], "nice": false, "zero": false}},
        "y": {"field": "t", "type": "quantitative", "scale": {"domain": [-1.344, 101.02], "nice": false, "zero": false, "reverse": true}}
      }
    },
    {
      "data": {"values": [{"x": 92.19, "t": 1.13}]},
      "mark": {"type": "point", "shape": "M0,-0.65L1,0.65L-1,0.65Z", "size": 529, "filled": true, "fill": "#1c1c1c", "opacity": 1, "strokeWidth": 0},
      "encoding": {
        "x": {"field": "x", "type": "quantitative", "scale": {"domain": [0, 100], "nice": false, "zero": false}},
        "y": {"field": "t", "type": "quantitative", "scale": {"domain": [-1.344, 101.02], "nice": false, "zero": false, "reverse": true}}
      }
    },
    {
      "data": {"values": [
        {"note": "Units 6 and 7", "x": 12.05, "t": 1.61, "a": "right"},
        {"note": "52-041", "x": 0.11, "t": 2.96, "a": "left"},
        {"note": "Page 94 of 103", "x": 0.0, "t": 4.3, "a": "left"}
      ]},
      "mark": {"type": "text", "font": "Liberation Sans", "fontSize": 19, "color": "#3a3a3a", "baseline": "middle", "align": {"expr": "datum.a"}},
      "encoding": {
        "x": {"field": "x", "type": "quantitative", "scale": {"domain": [0, 100], "nice": false, "zero": false}},
        "y": {"field": "t", "type": "quantitative", "scale": {"domain": [-1.344, 101.02], "nice": false, "zero": false, "reverse": true}},
        "text": {"field": "note"}
      }
    }
  ]
}
